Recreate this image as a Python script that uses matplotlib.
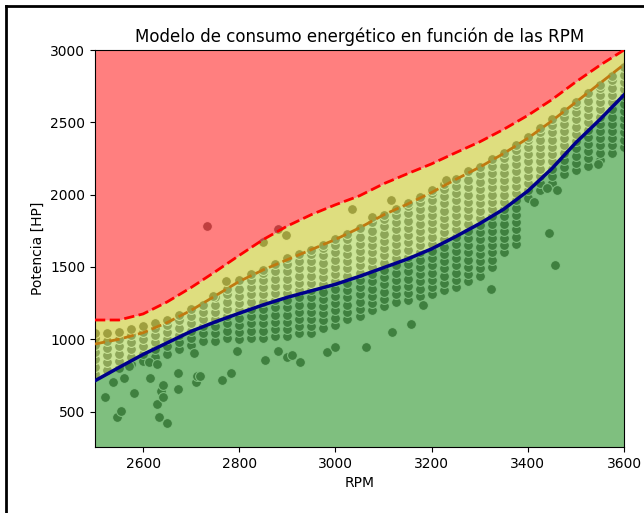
import numpy as np
import matplotlib
matplotlib.use("Agg")
import matplotlib.pyplot as plt
from matplotlib.lines import Line2D

# Model curves (RPM -> HP)
curve_rpm = [2500, 2550, 2600, 2650, 2700, 2750, 2800, 2850, 2900, 2950, 3000, 3050,
             3100, 3150, 3200, 3250, 3300, 3350, 3400, 3450, 3500, 3550, 3600]
model_hp = [713, 805, 895, 975, 1055, 1120, 1180, 1238, 1290, 1335, 1380, 1435,
            1495, 1555, 1625, 1710, 1800, 1900, 2025, 2180, 2360, 2520, 2690]
mid_hp = [967, 1000, 1045, 1115, 1200, 1300, 1400, 1480, 1550, 1620, 1690, 1770,
          1860, 1935, 2015, 2105, 2190, 2285, 2390, 2510, 2640, 2770, 2900]
upper_hp = [1133, 1133, 1175, 1258, 1358, 1467, 1580, 1690, 1783, 1862, 1930, 1992,
            2075, 2145, 2213, 2290, 2365, 2452, 2548, 2657, 2780, 2895, 3000]

# Dense cloud of measurements (columns of RPM, HP values in each column)
band_rpm = [2500, 2525, 2550, 2575, 2600, 2625, 2650, 2675, 2700, 2725, 2750, 2775,
            2800, 2825, 2850, 2875, 2900, 2925, 2950, 2975, 3000, 3025, 3050, 3075,
            3100, 3125, 3150, 3175, 3200, 3225, 3250, 3275, 3300, 3325, 3350, 3375,
            3400, 3425, 3450, 3475, 3500, 3525, 3550, 3575, 3600]
band_hp = [
    [760, 810, 860, 910, 960, 1010, 1040],
    [790, 840, 890, 940, 990, 1040],
    [800, 850, 900, 950, 1000, 1050],
    [830, 880, 930, 980, 1030, 1070],
    [850, 900, 950, 1000, 1050, 1090],
    [880, 930, 980, 1030, 1080, 1110],
    [900, 950, 1000, 1050, 1100, 1130],
    [930, 980, 1030, 1080, 1130, 1170],
    [960, 1010, 1060, 1110, 1160, 1210],
    [990, 1040, 1090, 1140, 1190, 1240],
    [990, 1040, 1090, 1140, 1190, 1240, 1290],
    [1010, 1060, 1110, 1160, 1210, 1260, 1310, 1350],
    [1000, 1050, 1100, 1150, 1200, 1250, 1300, 1350, 1410],
    [1010, 1060, 1110, 1160, 1210, 1260, 1310, 1360, 1410, 1450],
    [1010, 1060, 1110, 1160, 1210, 1260, 1310, 1360, 1410, 1460, 1480],
    [1020, 1070, 1120, 1170, 1220, 1270, 1320, 1370, 1420, 1470, 1520],
    [1020, 1070, 1120, 1170, 1220, 1270, 1320, 1370, 1420, 1470, 1520, 1560],
    [1040, 1090, 1140, 1190, 1240, 1290, 1340, 1390, 1440, 1490, 1540, 1590],
    [1040, 1090, 1140, 1190, 1240, 1290, 1340, 1390, 1440, 1490, 1540, 1590, 1620],
    [1080, 1130, 1180, 1230, 1280, 1330, 1380, 1430, 1480, 1530, 1580, 1630, 1655],
    [1100, 1150, 1200, 1250, 1300, 1350, 1400, 1450, 1500, 1550, 1600, 1650, 1690],
    [1140, 1190, 1240, 1290, 1340, 1390, 1440, 1490, 1540, 1590, 1640, 1690, 1730],
    [1160, 1210, 1260, 1310, 1360, 1410, 1460, 1510, 1560, 1610, 1660, 1710, 1770],
    [1200, 1250, 1300, 1350, 1400, 1450, 1500, 1550, 1600, 1650, 1700, 1750, 1810],
    [1230, 1280, 1330, 1380, 1430, 1480, 1530, 1580, 1630, 1680, 1730, 1780, 1830, 1860],
    [1260, 1310, 1360, 1410, 1460, 1510, 1560, 1610, 1660, 1710, 1760, 1810, 1860, 1900],
    [1270, 1320, 1370, 1420, 1470, 1520, 1570, 1620, 1670, 1720, 1770, 1820, 1870, 1920, 1940],
    [1300, 1350, 1400, 1450, 1500, 1550, 1600, 1650, 1700, 1750, 1800, 1850, 1900, 1950, 1985],
    [1310, 1360, 1410, 1460, 1510, 1560, 1610, 1660, 1710, 1760, 1810, 1860, 1910, 1960, 2010, 2030],
    [1340, 1390, 1440, 1490, 1540, 1590, 1640, 1690, 1740, 1790, 1840, 1890, 1940, 1990, 2040, 2075],
    [1360, 1410, 1460, 1510, 1560, 1610, 1660, 1710, 1760, 1810, 1860, 1910, 1960, 2010, 2060, 2110],
    [1400, 1450, 1500, 1550, 1600, 1650, 1700, 1750, 1800, 1850, 1900, 1950, 2000, 2050, 2100, 2160],
    [1440, 1490, 1540, 1590, 1640, 1690, 1740, 1790, 1840, 1890, 1940, 1990, 2040, 2090, 2140, 2190],
    [1500, 1550, 1600, 1650, 1700, 1750, 1800, 1850, 1900, 1950, 2000, 2050, 2100, 2150, 2200, 2245],
    [1600, 1650, 1700, 1750, 1800, 1850, 1900, 1950, 2000, 2050, 2100, 2150, 2200, 2250, 2290],
    [1660, 1710, 1760, 1810, 1860, 1910, 1960, 2010, 2060, 2110, 2160, 2210, 2260, 2310, 2345],
    [1980, 2030, 2080, 2130, 2180, 2230, 2280, 2330, 2380, 2400],
    [2030, 2080, 2130, 2180, 2230, 2280, 2330, 2380, 2430, 2460],
    [2080, 2130, 2180, 2230, 2280, 2330, 2380, 2430, 2480, 2520],
    [2140, 2190, 2240, 2290, 2340, 2390, 2440, 2490, 2540, 2580],
    [2170, 2220, 2270, 2320, 2370, 2420, 2470, 2520, 2570, 2620, 2640],
    [2200, 2250, 2300, 2350, 2400, 2450, 2500, 2550, 2600, 2650, 2700],
    [2240, 2290, 2340, 2390, 2440, 2490, 2540, 2590, 2640, 2690, 2740, 2760],
    [2290, 2340, 2390, 2440, 2490, 2540, 2590, 2640, 2690, 2740, 2790, 2820],
    [2330, 2380, 2430, 2480, 2530, 2580, 2630, 2680, 2730, 2780, 2830, 2880],
]

# Isolated measurements
out_rpm = [2521, 2537, 2546, 2555, 2561, 2570, 2581, 2612, 2614, 2628, 2628, 2633,
           2638, 2642, 2642, 2650, 2672, 2672, 2705, 2709, 2712, 2719, 2765, 2783,
           2796, 2853, 2880, 2900, 2910, 2926, 2982, 3000, 3063, 3118, 3158, 3183,
           3324, 3445, 3456, 3412, 3440, 3460, 3545,
           2733, 2849, 2880, 2897, 2773, 2745, 3035, 3116, 3077, 3229]
out_hp = [598, 702, 464, 503, 729, 815, 630, 844, 729, 828, 552, 464,
          644, 683, 602, 418, 764, 655, 902, 702, 748, 748, 718, 764,
          916, 856, 916, 879, 891, 844, 909, 948, 944, 1052, 1105, 1236,
          1345, 1732, 1511, 1951, 2044, 2032, 2212,
          1783, 1670, 1760, 1721, 1405, 1299, 1900, 1963, 1847, 2101]

pts_x, pts_y = [], []
for r, col in zip(band_rpm, band_hp):
    pts_x += [r] * len(col)
    pts_y += col
pts_x += out_rpm
pts_y += out_hp

fig = plt.figure(figsize=(6.44, 5.13), dpi=100)
ax = fig.add_axes([0.1475, 0.1287, 0.8215, 0.7738])

ax.scatter(pts_x, pts_y, s=50, c='gray', edgecolors='white', linewidths=0.75, zorder=1)

ax.fill_between(curve_rpm, upper_hp, 3000, color='red', alpha=0.5, lw=0, zorder=2)
ax.fill_between(curve_rpm, mid_hp, upper_hp, color='y', alpha=0.5, lw=0, zorder=2)
ax.fill_between(curve_rpm, model_hp, mid_hp, color='yellowgreen', alpha=0.5, lw=0, zorder=2)
ax.fill_between(curve_rpm, 0, model_hp, color='green', alpha=0.5, lw=0, zorder=2)

ax.plot(curve_rpm, upper_hp, '--', color='red', lw=2, zorder=3)
ax.plot(curve_rpm, mid_hp, '--', color='#c07a10', lw=2, zorder=3)
ax.plot(curve_rpm, model_hp, '-', color='darkblue', lw=2.5, zorder=3)

ax.set_xlim(2500, 3600)
ax.set_ylim(255, 3000)
ax.set_xticks([2600, 2800, 3000, 3200, 3400, 3600])
ax.set_yticks([500, 1000, 1500, 2000, 2500, 3000])
ax.set_xlabel('RPM')
ax.set_ylabel('Potencia [HP]')
ax.set_title('Modelo de consumo energético en función de las RPM')

# frame of the screenshot
fig.add_artist(Line2D([0.0093, 0.0093], [0, 0.989], transform=fig.transFigure, color='black', lw=2))
fig.add_artist(Line2D([0.0093, 1], [0.989, 0.989], transform=fig.transFigure, color='black', lw=2))

fig.savefig('out.png', dpi=100)
